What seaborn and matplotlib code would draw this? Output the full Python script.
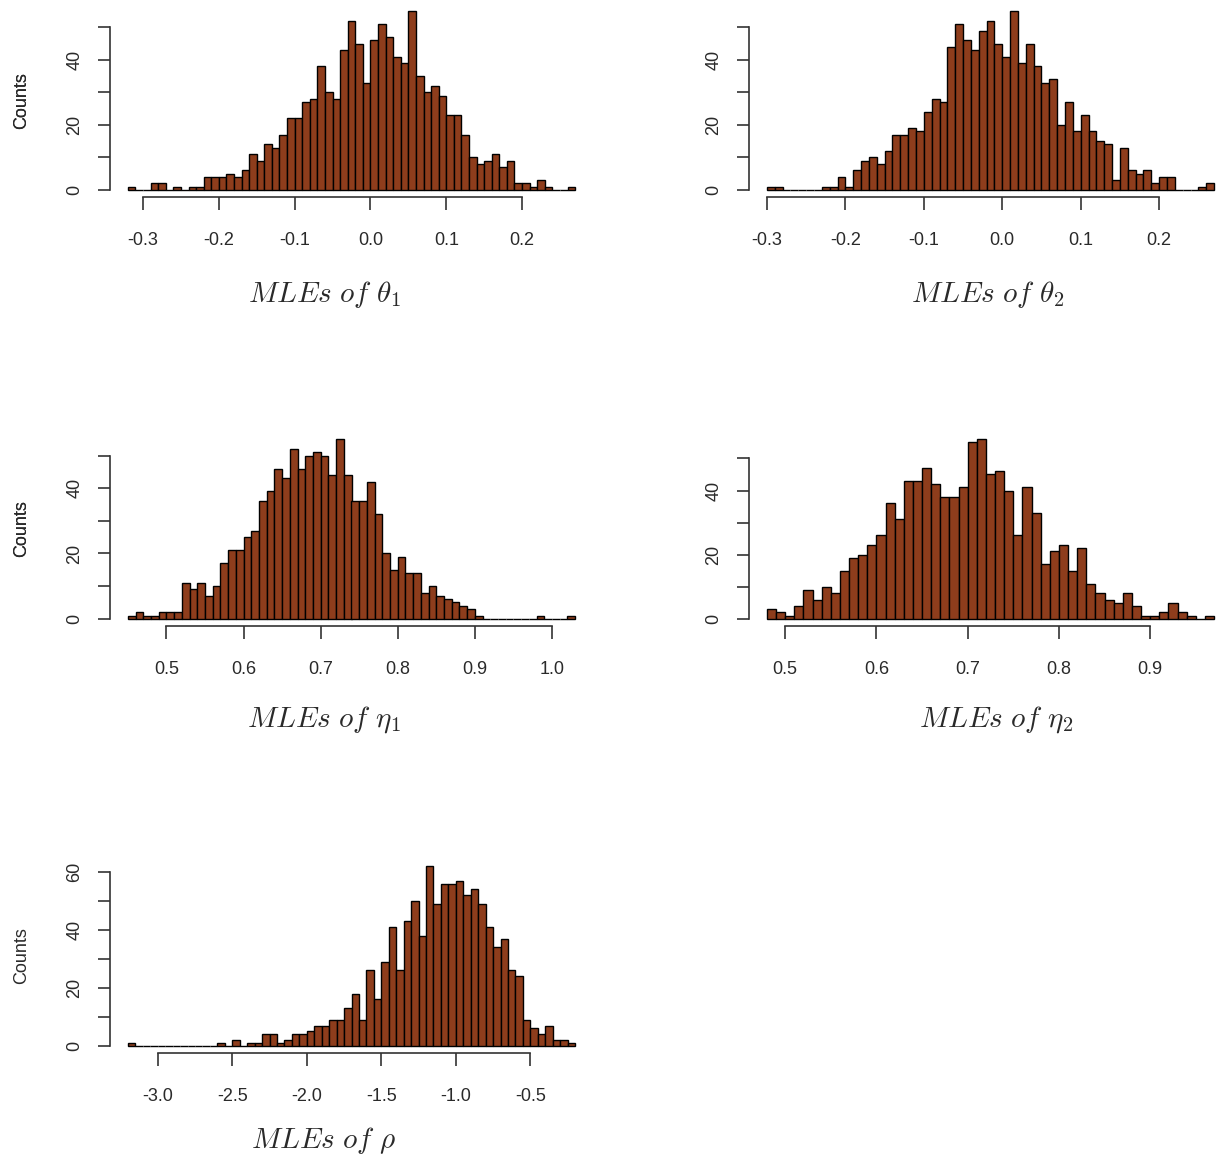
import numpy as np
import pandas as pd
import matplotlib
matplotlib.use("Agg")
import matplotlib.pyplot as plt
import seaborn as sns

# ---------------- data (histogram counts) ----------------
theta1_first_break = -0.32
theta1_bin_width = 0.01
theta1_counts = [1, 0, 0, 2, 2, 0, 1, 0, 1, 1, 4, 4, 4, 5, 4, 6, 11, 9, 14, 13,
                 17, 22, 22, 27, 28, 38, 30, 28, 43, 52, 45, 33, 46, 51, 47, 41,
                 39, 55, 35, 30, 32, 29, 23, 23, 17, 10, 8, 9, 11, 7, 9, 2, 2, 1,
                 3, 1, 0, 0, 1]
theta1_ticks = [-0.3, -0.2, -0.1, 0.0, 0.1, 0.2]
theta1_ticklabels = ["-0.3", "-0.2", "-0.1", "0.0", "0.1", "0.2"]

theta2_first_break = -0.30
theta2_bin_width = 0.01
theta2_counts = [1, 1, 0, 0, 0, 0, 0, 1, 1, 4, 1, 6, 9, 10, 8, 12, 17, 17, 19, 18,
                 24, 28, 27, 44, 51, 46, 43, 49, 52, 45, 41, 55, 39, 45, 38, 33,
                 34, 20, 27, 18, 23, 18, 15, 14, 3, 13, 6, 5, 6, 2, 4, 4, 0, 0,
                 0, 1, 2]
theta2_ticks = [-0.3, -0.2, -0.1, 0.0, 0.1, 0.2]
theta2_ticklabels = ["-0.3", "-0.2", "-0.1", "0.0", "0.1", "0.2"]

eta1_first_break = 0.45
eta1_bin_width = 0.01
eta1_counts = [1, 2, 1, 1, 2, 2, 2, 11, 9, 11, 7, 10, 17, 21, 21, 25, 27, 36, 39,
               46, 43, 52, 46, 50, 51, 50, 44, 55, 44, 36, 36, 42, 32, 20, 15, 19,
               14, 14, 8, 10, 7, 6, 5, 4, 3, 1, 0, 0, 0, 0, 0, 0, 0, 1, 0, 0, 0, 1]
eta1_ticks = [0.5, 0.6, 0.7, 0.8, 0.9, 1.0]
eta1_ticklabels = ["0.5", "0.6", "0.7", "0.8", "0.9", "1.0"]

eta2_first_break = 0.48
eta2_bin_width = 0.01
eta2_counts = [3, 2, 1, 4, 9, 6, 10, 8, 15, 19, 20, 23, 26, 36, 31, 43, 43, 47, 42,
               38, 38, 41, 55, 56, 45, 46, 40, 26, 41, 33, 17, 21, 23, 15, 22, 11,
               8, 6, 5, 8, 4, 1, 1, 2, 5, 2, 1, 0, 1]
eta2_ticks = [0.5, 0.6, 0.7, 0.8, 0.9]
eta2_ticklabels = ["0.5", "0.6", "0.7", "0.8", "0.9"]

rho_first_break = -3.20
rho_bin_width = 0.05
rho_counts = [1, 0, 0, 0, 0, 0, 0, 0, 0, 0, 0, 0, 1, 0, 2, 0, 1, 1, 4, 4, 1, 2, 4,
              4, 5, 7, 7, 9, 9, 13, 18, 9, 26, 16, 29, 41, 26, 43, 50, 38, 62, 49,
              56, 56, 57, 52, 54, 49, 41, 34, 37, 26, 24, 9, 6, 4, 7, 2, 2, 1]
rho_ticks = [-3.0, -2.5, -2.0, -1.5, -1.0, -0.5]
rho_ticklabels = ["-3.0", "-2.5", "-2.0", "-1.5", "-1.0", "-0.5"]

y_ticks_50 = [0, 10, 20, 30, 40, 50]
y_ticklabels_50 = ["0", "", "20", "", "40", ""]
y_ticks_60 = [0, 10, 20, 30, 40, 50, 60]
y_ticklabels_60 = ["0", "", "20", "", "40", "", "60"]

xlabels = [r"$MLEs\ of\ \theta_1$", r"$MLEs\ of\ \theta_2$",
           r"$MLEs\ of\ \eta_1$", r"$MLEs\ of\ \eta_2$", r"$MLEs\ of\ \rho$"]

# ---------------- style ----------------
sns.set_style("white")
plt.rcParams["font.family"] = ["Liberation Sans", "DejaVu Sans"]
plt.rcParams["mathtext.fontset"] = "cm"
plt.rcParams["axes.unicode_minus"] = False

W, H = 1220, 1163
fig = plt.figure(figsize=(W / 100, H / 100), dpi=100)

BAR = "#8E3D1C"
AXC = "#333333"
TXT = "#2a2a2a"

# pixel boxes: (left, top, width, height)
boxes = [(110, 4, 483, 193), (749, 4, 483, 193),
         (110, 432, 483, 194), (749, 432, 483, 194),
         (110, 859, 483, 194)]
label_pos = [(325, 295), (988, 295), (324, 720), (996, 720), (324, 1140)]

panels = [
    (theta1_first_break, theta1_bin_width, theta1_counts, theta1_ticks, theta1_ticklabels, y_ticks_50, y_ticklabels_50),
    (theta2_first_break, theta2_bin_width, theta2_counts, theta2_ticks, theta2_ticklabels, y_ticks_50, y_ticklabels_50),
    (eta1_first_break, eta1_bin_width, eta1_counts, eta1_ticks, eta1_ticklabels, y_ticks_50, y_ticklabels_50),
    (eta2_first_break, eta2_bin_width, eta2_counts, eta2_ticks, eta2_ticklabels, y_ticks_50, y_ticklabels_50),
    (rho_first_break, rho_bin_width, rho_counts, rho_ticks, rho_ticklabels, y_ticks_60, y_ticklabels_60),
]

for (first, bw, counts, xt, xtl, yt, ytl), (l, t, w, h), lab, (lx, ly) in zip(panels, boxes, xlabels, label_pos):
    ax = fig.add_axes([l / W, 1 - (t + h) / H, w / W, h / H])
    n = len(counts)
    edges = np.round(first + bw * np.arange(n + 1), 6)
    centers = np.round((edges[:-1] + edges[1:]) / 2, 6)
    df = pd.DataFrame({"value": centers, "count": np.asarray(counts, dtype=float)})
    sns.histplot(data=df, x="value", weights="count", bins=[float(e) for e in edges],
                 ax=ax, color=BAR, edgecolor="black", linewidth=1.0, alpha=1.0)
    xr = edges[-1] - edges[0]
    ax.set_xlim(edges[0] - 0.04 * xr, edges[-1] + 0.04 * xr)
    ymax = max(counts)
    ax.set_ylim(-0.04 * ymax, 1.04 * ymax)

    for s in ["top", "right"]:
        ax.spines[s].set_visible(False)
    for s in ["left", "bottom"]:
        ax.spines[s].set_color(AXC)
        ax.spines[s].set_linewidth(1.2)
    ax.spines["left"].set_bounds(yt[0], yt[-1])
    ax.spines["bottom"].set_bounds(xt[0], xt[-1])

    ax.set_xticks(xt)
    ax.set_xticklabels(xtl)
    ax.set_yticks(yt)
    ax.set_yticklabels(ytl, rotation=90, va="center")
    ax.tick_params(axis="both", direction="out", length=9, width=1.2,
                   color=AXC, labelcolor=TXT, labelsize=13,
                   bottom=True, left=True)
    ax.tick_params(axis="x", pad=16)
    ax.tick_params(axis="y", pad=10)
    ax.set_xlabel("")
    ax.set_ylabel("Counts", fontsize=13, color=TXT)
    ax.yaxis.set_label_coords((22 - l) / w, 0.5)
    ax.yaxis.label.set_va("center")
    ax.grid(False)

    fig.text(lx / W, 1 - ly / H, lab, ha="center", va="center",
             fontsize=21, color=TXT)

fig.savefig("out.png", dpi=100)
